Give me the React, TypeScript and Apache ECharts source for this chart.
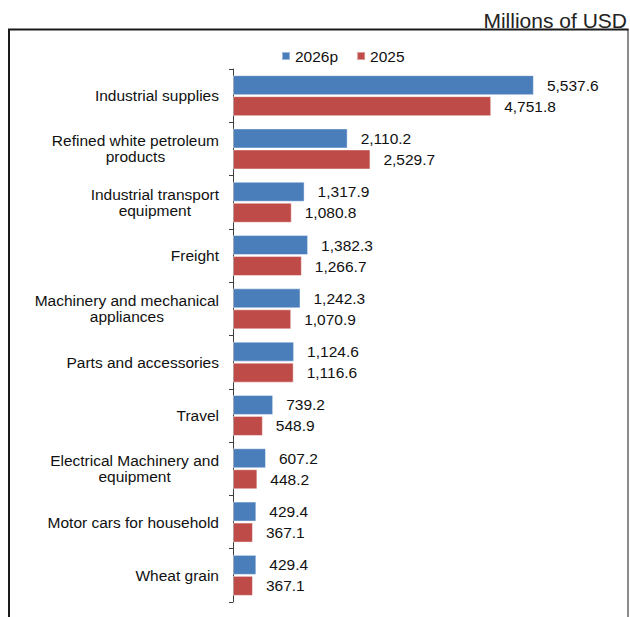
import { useEffect, useRef } from 'react'
import * as echarts from 'echarts'

const categories = [
  'Industrial supplies',
  'Refined white petroleum\nproducts',
  'Industrial transport\nequipment',
  'Freight',
  'Machinery and mechanical\nappliances',
  'Parts and accessories',
  'Travel',
  'Electrical Machinery and\nequipment',
  'Motor cars for household',
  'Wheat grain',
]
const values2026p = [5537.6, 2110.2, 1317.9, 1382.3, 1242.3, 1124.6, 739.2, 607.2, 429.4, 429.4]
const values2025 = [4751.8, 2529.7, 1080.8, 1266.7, 1070.9, 1116.6, 548.9, 448.2, 367.1, 367.1]

const FONT = '"Liberation Sans", Arial, Helvetica, sans-serif'
const BLUE = '#4a7ebb'
const RED = '#be4b48'

const fmt = (v: number) =>
  v.toLocaleString('en-US', { minimumFractionDigits: 1, maximumFractionDigits: 1 })

export default function App() {
  const chartRef = useRef<HTMLDivElement>(null)

  useEffect(() => {
    if (!chartRef.current) return
    const chart = echarts.init(chartRef.current, undefined, { renderer: 'svg' })

    const valueLabel = {
      show: true,
      position: 'right',
      distance: 13,
      fontFamily: FONT,
      fontSize: 15.5,
      color: '#111',
      formatter: (p: any) => fmt(p.value),
    }

    const option = {
      animation: false,
      backgroundColor: '#fff',
      textStyle: { fontFamily: FONT },
      title: {
        text: 'Millions of USD',
        right: -2,
        top: 5,
        textStyle: { fontFamily: FONT, fontSize: 21, fontWeight: 'normal', color: '#222' },
      },
      legend: {
        data: ['2026p', '2025'],
        left: 276,
        top: 43,
        icon: 'rect',
        itemWidth: 8,
        itemHeight: 8,
        itemGap: 18,
        textStyle: { fontFamily: FONT, fontSize: 15.5, color: '#111' },
      },
      grid: { left: 233, right: 71, top: 69, bottom: 15 },
      xAxis: {
        type: 'value',
        min: 0,
        max: 6000,
        show: false,
        splitLine: { show: false },
      },
      yAxis: {
        type: 'category',
        inverse: true,
        data: categories,
        axisLine: { show: true, lineStyle: { color: '#404040', width: 1 } },
        axisTick: { show: true, length: 4, lineStyle: { color: '#404040' } },
        axisLabel: {
          margin: 14,
          fontFamily: FONT,
          fontSize: 15.5,
          lineHeight: 16,
          color: '#111',
          formatter: (value: string) => {
            const lines = value.split('\n')
            if (lines.length === 1) return value
            return lines.map((l) => `{c|${l}}`).join('\n')
          },
          rich: {
            c: { align: 'center', fontFamily: FONT, fontSize: 15.5, lineHeight: 16, color: '#111' },
          },
        },
      },
      series: [
        {
          name: '2026p',
          type: 'bar',
          data: values2026p,
          barWidth: 20,
          barGap: '5%',
          itemStyle: { color: BLUE, borderColor: 'rgba(255,255,255,0.45)', borderWidth: 1 },
          label: valueLabel,
        },
        {
          name: '2025',
          type: 'bar',
          data: values2025,
          barWidth: 20,
          itemStyle: { color: RED, borderColor: 'rgba(255,255,255,0.45)', borderWidth: 1 },
          label: valueLabel,
        },
      ],
      graphic: [
        {
          type: 'line',
          shape: { x1: 8, y1: 29.5, x2: 628.5, y2: 29.5 },
          style: { stroke: '#1a1a1a', lineWidth: 2 },
        },
        {
          type: 'line',
          shape: { x1: 9, y1: 29, x2: 9, y2: 630 },
          style: { stroke: '#1a1a1a', lineWidth: 2 },
        },
        {
          type: 'line',
          shape: { x1: 628, y1: 29, x2: 628, y2: 630 },
          style: { stroke: '#1a1a1a', lineWidth: 1 },
        },
      ],
    }

    chart.setOption(option)

    return () => {
      chart.dispose()
    }
  }, [])

  return (
    <div
      ref={chartRef}
      style={{ position: 'absolute', left: 0, top: 0, width: '630px', height: '617px' }}
    />
  )
}
